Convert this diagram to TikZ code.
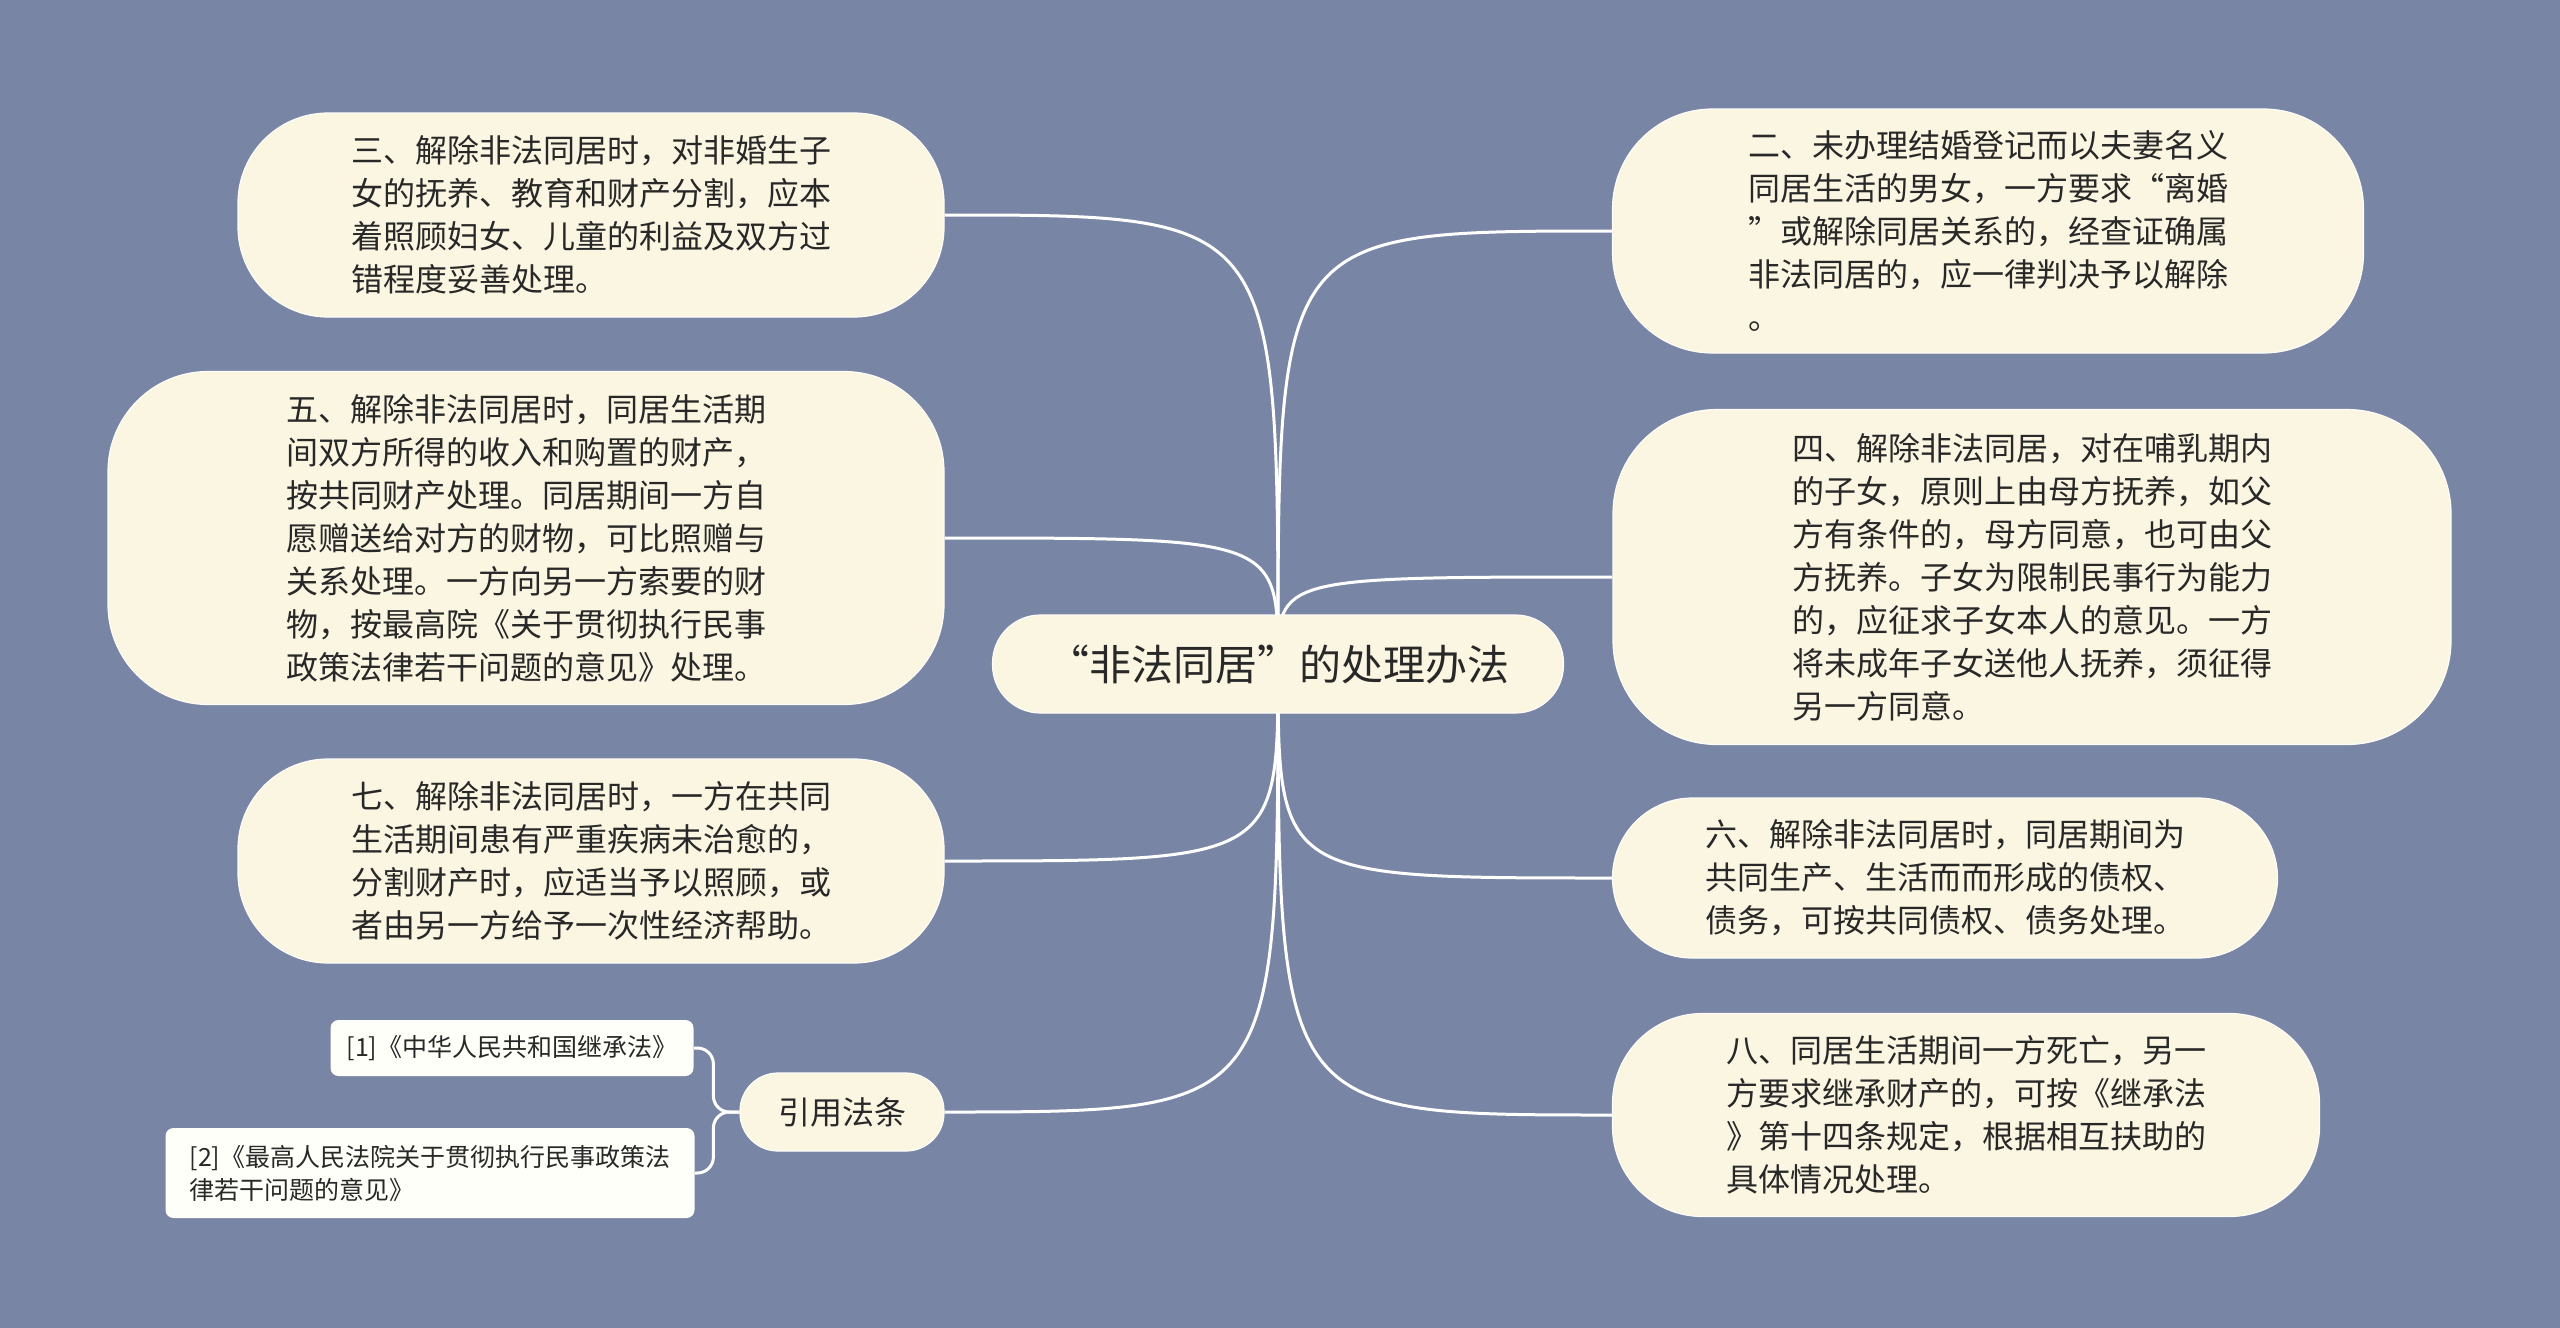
\documentclass[tikz,border=0pt]{standalone}
\usepackage{fontspec}
\newfontfamily\cjk{Noto Sans CJK SC}

\definecolor{mapbg}{RGB}{120,133,165}
\definecolor{cream}{RGB}{251,246,226}
\definecolor{paper}{RGB}{255,255,250}
\definecolor{ink}{RGB}{40,40,40}

\pgfdeclarelayer{bg}
\pgfdeclarelayer{links}
\pgfsetlayers{bg,links,main}

\tikzset{
  topic/.style={fill=cream, draw=white!70!cream, line width=0.6pt, rounded corners=#1,
    inner sep=0pt, align=left, text=ink, font=\cjk\fontsize{16}{21.5}\selectfont},
  topic/.default=45pt,
  citebox/.style={fill=paper, rounded corners=4pt, inner sep=0pt, align=left, text=ink,
    font=\cjk\fontsize{12.5}{16.5}\selectfont},
  link/.style={white, line width=1.5pt},
}

\begin{document}
\begin{tikzpicture}[x=0.5pt, y=-0.5pt]
    \useasboundingbox (0,0) rectangle (2560,1328);
    \begin{pgfonlayer}{bg}
        \fill[mapbg] (0,0) rectangle (2560,1328);
    \end{pgfonlayer}

    % Centre
    \node[topic=24pt, minimum width=285.5pt, minimum height=49pt,
          font=\cjk\fontsize{21}{24}\selectfont] (root) at (1278,664) {“非法同居”的处理办法};

    % Branches on the left
    \node[topic, minimum width=353pt, minimum height=102pt] (b3) at (591,215)
        {三、解除非法同居时，对非婚生子\\女的抚养、教育和财产分割，应本\\着照顾妇女、儿童的利益及双方过\\错程度妥善处理。};
    \node[topic=50pt, minimum width=418pt, minimum height=166.5pt] (b5) at (526,538)
        {五、解除非法同居时，同居生活期\\间双方所得的收入和购置的财产，\\按共同财产处理。同居期间一方自\\愿赠送给对方的财物，可比照赠与\\关系处理。一方向另一方索要的财\\物，按最高院《关于贯彻执行民事\\政策法律若干问题的意见》处理。};
    \node[topic, minimum width=353pt, minimum height=102pt] (b7) at (591,861)
        {七、解除非法同居时，一方在共同\\生活期间患有严重疾病未治愈的，\\分割财产时，应适当予以照顾，或\\者由另一方给予一次性经济帮助。};
    \node[topic=19pt, minimum width=102pt, minimum height=39pt] (cite) at (842,1112) {引用法条};

    % Cited laws
    \node[citebox, minimum width=181.5pt, minimum height=28pt] (ref1) at (512,1048)
        {[1]《中华人民共和国继承法》};
    \node[citebox, minimum width=264.5pt, minimum height=45pt] (ref2) at (430,1173)
        {[2]《最高人民法院关于贯彻执行民事政策法\\律若干问题的意见》};

    % Branches on the right
    \node[topic=50pt, minimum width=375.5pt, minimum height=122pt] (b2) at (1988,231)
        {二、未办理结婚登记而以夫妻名义\\同居生活的男女，一方要求“离婚\\”或解除同居关系的，经查证确属\\非法同居的，应一律判决予以解除\\。};
    \node[topic=52pt, minimum width=419pt, minimum height=167.5pt] (b4) at (2032,577)
        {四、解除非法同居，对在哺乳期内\\的子女，原则上由母方抚养，如父\\方有条件的，母方同意，也可由父\\方抚养。子女为限制民事行为能力\\的，应征求子女本人的意见。一方\\将未成年子女送他人抚养，须征得\\另一方同意。};
    \node[topic=40pt, minimum width=332.5pt, minimum height=80pt] (b6) at (1945,878)
        {六、解除非法同居时，同居期间为\\共同生产、生活而而形成的债权、\\债务，可按共同债权、债务处理。};
    \node[topic, minimum width=353.5pt, minimum height=101.5pt] (b8) at (1966,1115)
        {八、同居生活期间一方死亡，另一\\方要求继承财产的，可按《继承法\\》第十四条规定，根据相互扶助的\\具体情况处理。};

    % Connectors
    \begin{pgfonlayer}{links}
        \foreach \n in {b3,b5,b7,cite}
            \draw[link] (root.center) .. controls (root.center |- \n.east) .. (\n.east);
        \foreach \n in {b2,b4,b6,b8}
            \draw[link] (root.center) .. controls (root.center |- \n.west) .. (\n.west);
        \draw[link, rounded corners=8pt] (cite.west) -- ++(-26,0) |- (ref1.east);
        \draw[link, rounded corners=8pt] (cite.west) -- ++(-26,0) |- (ref2.east);
    \end{pgfonlayer}
\end{tikzpicture}
\end{document}
